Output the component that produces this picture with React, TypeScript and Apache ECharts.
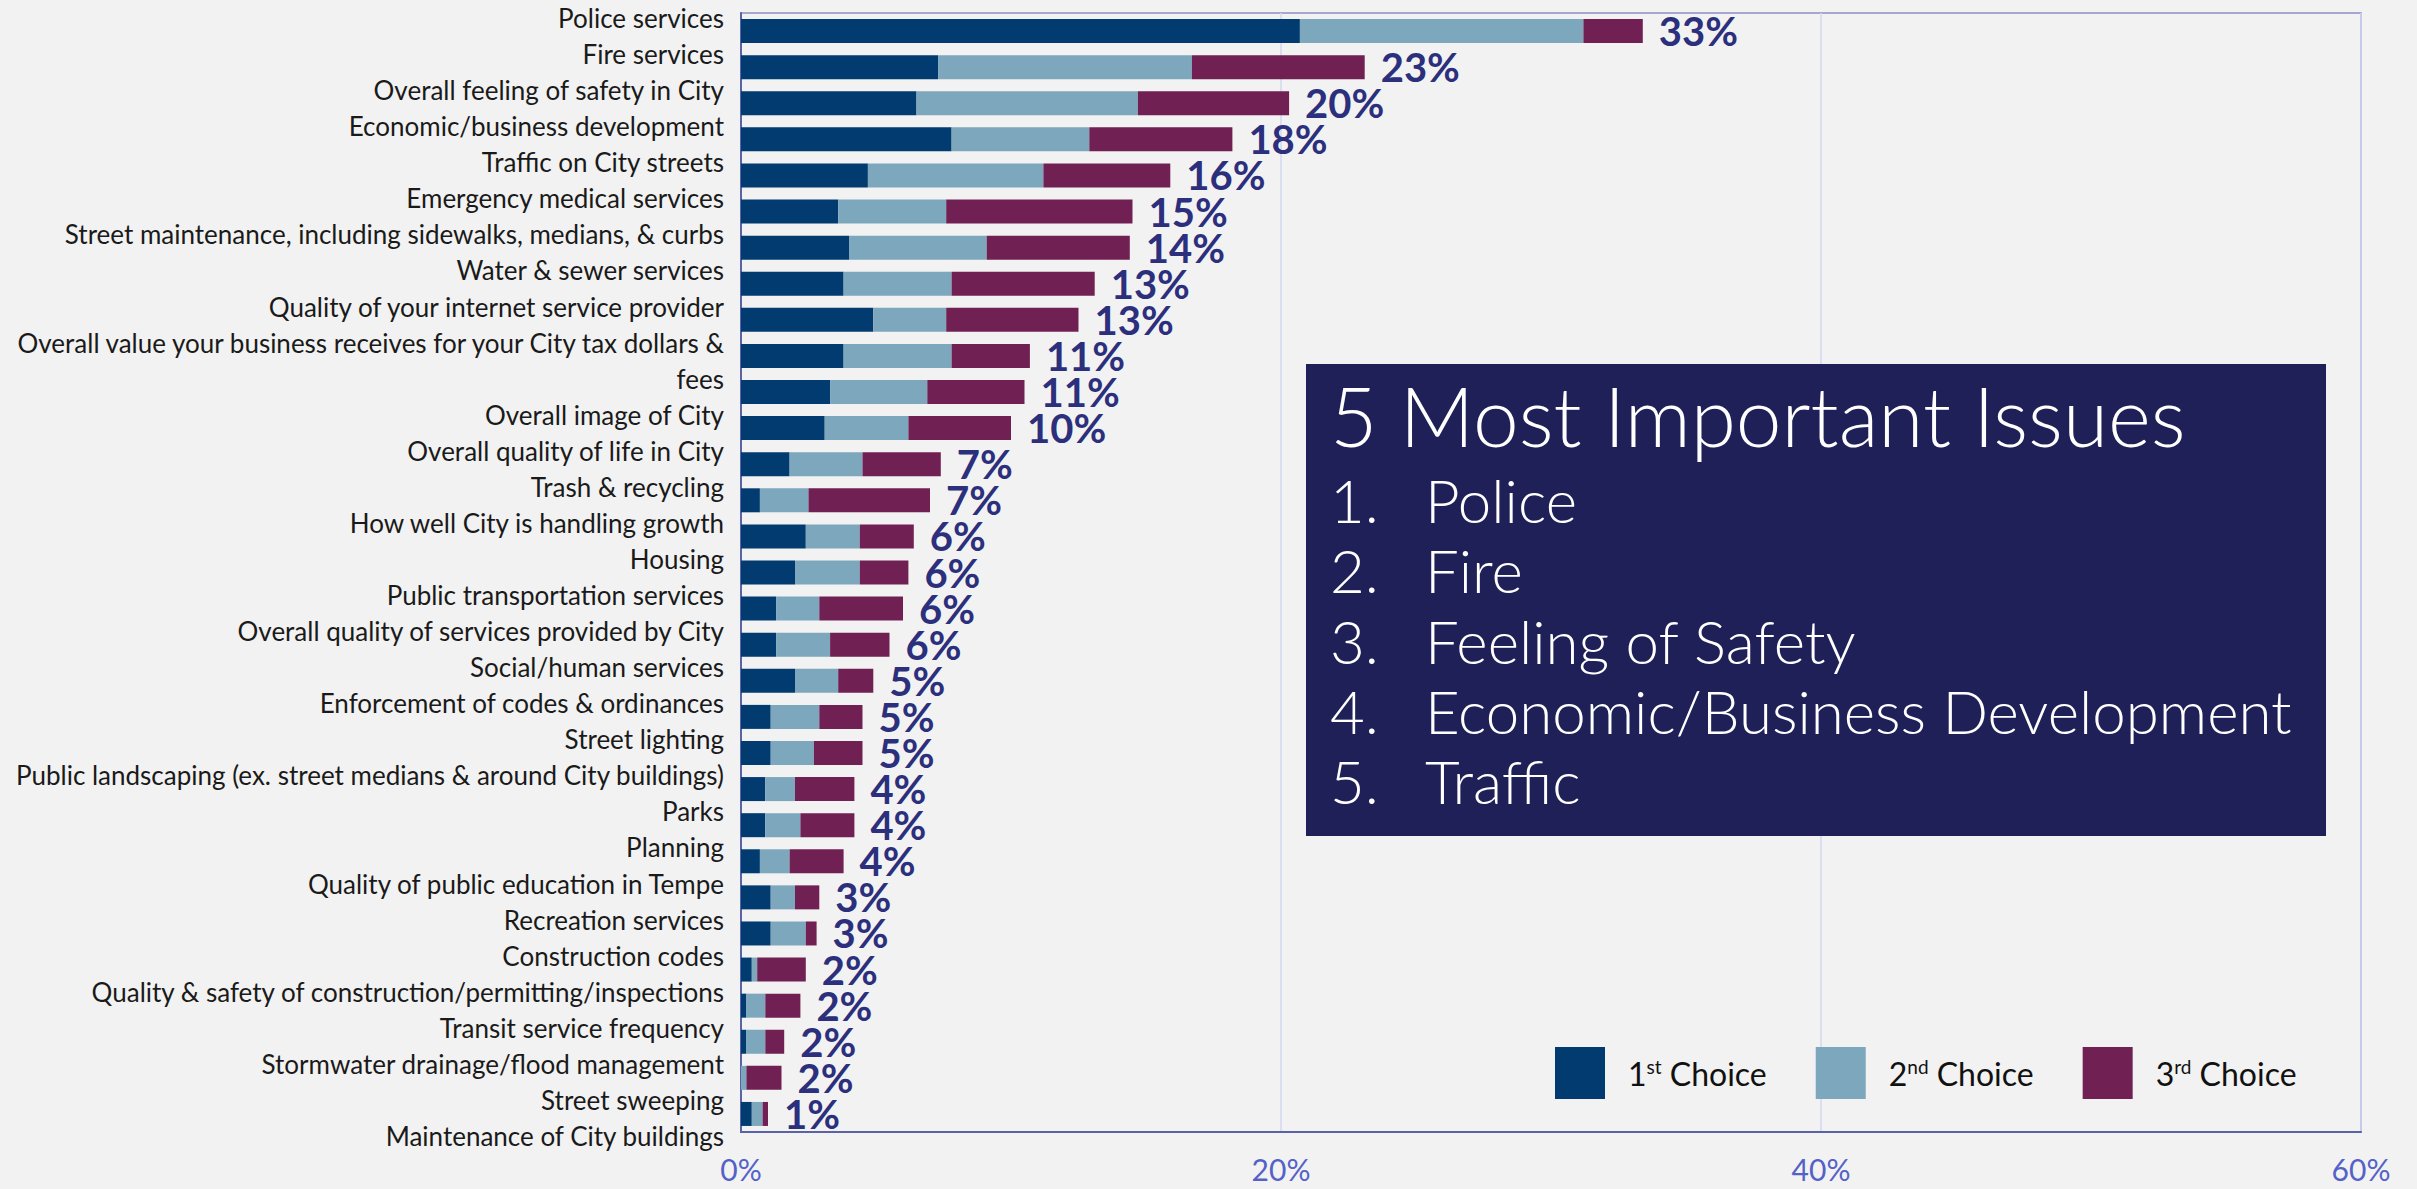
import React, { useEffect, useRef } from "react";
import * as echarts from "echarts";

const categories = [
  "Police services",
  "Fire services",
  "Overall feeling of safety in City",
  "Economic/business development",
  "Traffic on City streets",
  "Emergency medical services",
  "Street maintenance, including sidewalks, medians, & curbs",
  "Water & sewer services",
  "Quality of your internet service provider",
  "Overall value your business receives for your City tax dollars &\nfees",
  "Overall image of City",
  "Overall quality of life in City",
  "Trash & recycling",
  "How well City is handling growth",
  "Housing",
  "Public transportation services",
  "Overall quality of services provided by City",
  "Social/human services",
  "Enforcement of codes & ordinances",
  "Street lighting",
  "Public landscaping (ex. street medians & around City buildings)",
  "Parks",
  "Planning",
  "Quality of public education in Tempe",
  "Recreation services",
  "Construction codes",
  "Quality & safety of construction/permitting/inspections",
  "Transit service frequency",
  "Stormwater drainage/flood management",
  "Street sweeping",
  "Maintenance of City buildings",
];

const firstChoice = [20.7, 7.3, 6.5, 7.8, 4.7, 3.6, 4.0, 3.8, 4.9, 3.8, 3.3, 3.1, 1.8, 0.7, 2.4, 2.0, 1.3, 1.3, 2.0, 1.1, 1.1, 0.9, 0.9, 0.7, 1.1, 1.1, 0.4, 0.2, 0.2, 0, 0.4];
const secondChoice = [10.5, 9.4, 8.2, 5.1, 6.5, 4.0, 5.1, 4.0, 2.7, 4.0, 3.6, 3.1, 2.7, 1.8, 2.0, 2.4, 1.6, 2.0, 1.6, 1.8, 1.6, 1.1, 1.3, 1.1, 0.9, 1.3, 0.2, 0.7, 0.7, 0.2, 0.4];
const thirdChoice = [2.2, 6.4, 5.6, 5.3, 4.7, 6.9, 5.3, 5.3, 4.9, 2.9, 3.6, 3.8, 2.9, 4.5, 2.0, 1.8, 3.1, 2.2, 1.3, 1.6, 1.8, 2.2, 2.0, 2.0, 0.9, 0.4, 1.8, 1.3, 0.7, 1.3, 0.2];
const totals = [33, 23, 20, 18, 16, 15, 14, 13, 13, 11, 11, 10, 7, 7, 6, 6, 6, 6, 5, 5, 5, 4, 4, 4, 3, 3, 2, 2, 2, 2, 1];

const seriesNames = ["1st Choice", "2nd Choice", "3rd Choice"];
const xTicks = { min: 0, max: 60, interval: 20 };

const issuesTitle = "5 Most Important Issues";
const issues = ["Police", "Fire", "Feeling of Safety", "Economic/Business Development", "Traffic"];

const COLORS = ["#013B6F", "#7CA7BD", "#712053"];
const FONT = "Lato, 'Noto Sans', sans-serif";

export default function App() {
  const ref = useRef<HTMLDivElement>(null);

  useEffect(() => {
    if (!ref.current) return;
    const chart = echarts.init(ref.current, null, { renderer: "svg" });

    const labelLines: string[] = [];
    categories.forEach((c) => c.split("\n").forEach((l) => labelLines.push(l)));

    const gridLeft = 741;
    const gridTop = 13;
    const gridW = 1620;
    const gridH = 1119;
    const lineH = 36.16;

    const issueGraphics: any[] = [
      {
        type: "rect",
        shape: { x: 1306, y: 364, width: 1020, height: 472 },
        style: { fill: "#1E2057" },
        z: 100,
      },
      {
        type: "text",
        x: 1330,
        y: 415,
        z: 101,
        style: {
          text: issuesTitle,
          fill: "#FFFFFF",
          font: `300 82px ${FONT}`,
          verticalAlign: "middle",
          align: "left",
        },
      },
    ];
    issues.forEach((t, i) => {
      const y = 500 + 70.3 * i;
      issueGraphics.push({
        type: "text",
        x: 1330,
        y,
        z: 101,
        style: { text: `${i + 1}.`, fill: "#FFFFFF", font: `300 60px ${FONT}`, verticalAlign: "middle", align: "left" },
      });
      issueGraphics.push({
        type: "text",
        x: 1425,
        y,
        z: 101,
        style: { text: t, fill: "#FFFFFF", font: `300 60px ${FONT}`, verticalAlign: "middle", align: "left" },
      });
    });

    const dataSets = [firstChoice, secondChoice, thirdChoice];

    chart.setOption({
      animation: false,
      backgroundColor: "#F2F2F2",
      textStyle: { fontFamily: FONT },
      grid: [
        {
          left: gridLeft,
          top: gridTop,
          width: gridW,
          height: gridH,
          show: true,
          borderColor: "#8A8FC4",
          borderWidth: 1.5,
          backgroundColor: "transparent",
        },
        {
          left: gridLeft,
          top: 15 - lineH / 2,
          width: gridW,
          height: lineH * labelLines.length,
        },
      ],
      xAxis: [
        {
          type: "value",
          gridIndex: 0,
          min: xTicks.min,
          max: xTicks.max,
          interval: xTicks.interval,
          axisLine: { show: true, lineStyle: { color: "#5B63A8", width: 2 } },
          axisTick: { show: false },
          splitLine: { show: true, lineStyle: { color: "#D3D6F0", width: 1.5 } },
          axisLabel: {
            formatter: "{value}%",
            color: "#5462C8",
            fontSize: 30,
            margin: 22,
            fontFamily: FONT,
          },
        },
        {
          type: "value",
          gridIndex: 1,
          min: 0,
          max: 1,
          show: false,
        },
      ],
      yAxis: [
        {
          type: "category",
          gridIndex: 0,
          data: categories,
          inverse: true,
          axisLine: { show: true, lineStyle: { color: "#5B63A8", width: 2 } },
          axisTick: { show: false },
          axisLabel: { show: false },
          splitLine: { show: false },
        },
        {
          type: "category",
          gridIndex: 1,
          data: labelLines,
          inverse: true,
          axisLine: { show: false },
          axisTick: { show: false },
          splitLine: { show: false },
          axisLabel: {
            show: true,
            interval: 0,
            margin: 17,
            color: "#1A1A1A",
            fontSize: 26,
            lineHeight: 32,
            fontFamily: FONT,
          },
        },
      ],
      legend: {
        show: true,
        left: 1555,
        top: 1047,
        padding: 0,
        itemWidth: 50,
        itemHeight: 52,
        itemGap: 49,
        icon: "rect",
        data: seriesNames,
        formatter: (name: string) => name.replace(/^(\d)(st|nd|rd) /, "$1{sup|$2} "),
        textStyle: {
          color: "#111111",
          fontSize: 32,
          fontFamily: FONT,
          padding: [0, 0, 0, 18],
          rich: {
            sup: { fontSize: 19, verticalAlign: "top", padding: [0, 0, 13, 0], fontFamily: FONT, color: "#111111" },
          },
        },
      },
      graphic: issueGraphics,
      series: dataSets.map((d, si) => ({
        name: seriesNames[si],
        type: "bar",
        stack: "total",
        xAxisIndex: 0,
        yAxisIndex: 0,
        barWidth: 24,
        data: d,
        itemStyle: { color: COLORS[si] },
        label:
          si === 2
            ? {
                show: true,
                position: "right",
                distance: 16,
                formatter: (p: any) => `${totals[p.dataIndex]}%`,
                color: "#2B2F7C",
                fontSize: 40,
                lineHeight: 34,
                fontWeight: "bold",
                fontFamily: FONT,
              }
            : { show: false },
      })),
    });

    return () => chart.dispose();
  }, []);

  return (
    <div
      ref={ref}
      style={{ position: "fixed", left: 0, top: 0, width: 2417, height: 1189 }}
    />
  );
}
